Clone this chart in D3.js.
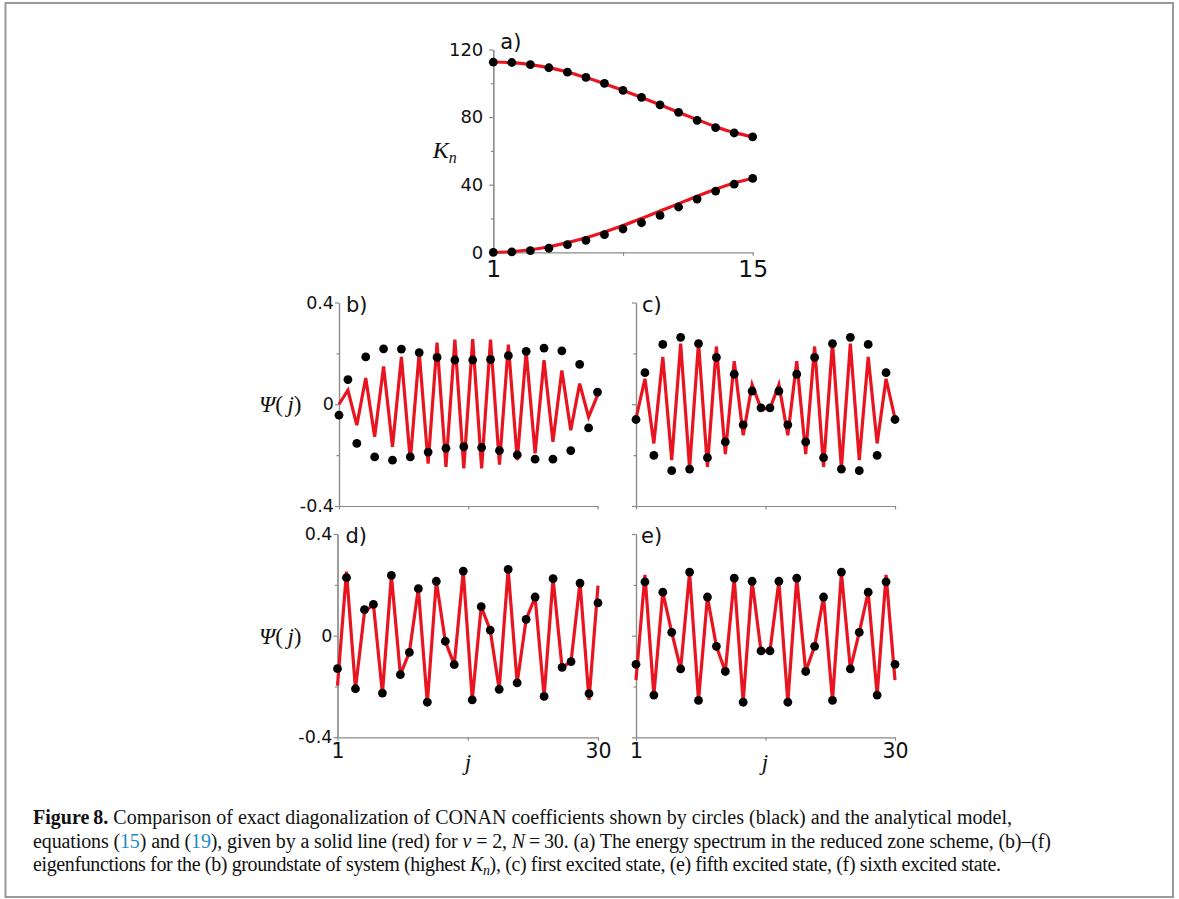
<!DOCTYPE html>
<html>
<head>
<meta charset="utf-8">
<script src="https://cdn.jsdelivr.net/npm/d3@7"></script>
<style>
body { margin: 0; background: #fff; }
.axis path, .axis line { stroke: #8a8a8a; stroke-width: 1.2; }
.axis text { fill: #111; }
.cap { font-family: "Liberation Serif", serif; fill: #111; }
</style>
</head>
<body>
<svg id="fig" width="1179" height="899"></svg>
<script>
// panel a) - energy spectrum, n = 1..15
var nA = [1, 2, 3, 4, 5, 6, 7, 8, 9, 10, 11, 12, 13, 14, 15];
var aUpperDots = [112.5, 112.3, 111.0, 109.2, 106.6, 103.5, 99.9, 95.8, 91.7, 87.2, 82.8, 78.1, 73.8, 70.6, 68.3];
var aLowerDots = [0, 0.2, 1.0, 2.4, 4.5, 7.1, 10.4, 13.8, 17.5, 21.8, 26.8, 31.5, 36.2, 40.3, 43.7];
var aUpperLine = [112.6, 112.2, 111.1, 109.3, 106.7, 103.4, 99.8, 95.8, 91.6, 87.3, 82.9, 78.5, 74.3, 70.8, 68.4];
var aLowerLine = [0, 0.4, 1.5, 3.3, 5.7, 8.6, 12.0, 15.8, 20.0, 24.4, 28.8, 33.2, 37.3, 41.0, 43.8];
var aYTicks = [0, 40, 80, 120];
var aYMinor = [20, 60, 100];
var aXTicks = [1, 8, 15];
var aXLabels = [1, 15];

// panels b)-e) - eigenfunctions, j = 1..30
var jIdx = [1, 2, 3, 4, 5, 6, 7, 8, 9, 10, 11, 12, 13, 14, 15, 16, 17, 18, 19, 20, 21, 22, 23, 24, 25, 26, 27, 28, 29, 30];
var bDots = [-0.043, 0.097, -0.154, 0.186, -0.207, 0.218, -0.220, 0.217, -0.207, 0.203, -0.188, 0.184, -0.173, 0.174, -0.167,
             0.174, -0.170, 0.176, -0.182, 0.191, -0.199, 0.208, -0.216, 0.221, -0.216, 0.210, -0.182, 0.157, -0.093, 0.048];
var bLine = [0, 0.055, -0.082, 0.103, -0.128, 0.149, -0.167, 0.186, -0.222, 0.205, -0.233, 0.242, -0.246, 0.254, -0.252,
             0.256, -0.252, 0.254, -0.237, 0.234, -0.220, 0.208, -0.193, 0.173, -0.148, 0.133, -0.102, 0.081, -0.050, 0.035];
var cDots = [-0.060, 0.124, -0.201, 0.235, -0.261, 0.263, -0.255, 0.238, -0.210, 0.184, -0.148, 0.118, -0.081, 0.052, -0.014,
             -0.014, 0.052, -0.081, 0.118, -0.148, 0.184, -0.210, 0.238, -0.255, 0.263, -0.261, 0.235, -0.201, 0.124, -0.060];
var cLine = [-0.056, 0.100, -0.154, 0.186, -0.220, 0.238, -0.252, 0.242, -0.246, 0.227, -0.196, 0.169, -0.122, 0.077, -0.017,
             -0.017, 0.077, -0.122, 0.169, -0.196, 0.227, -0.246, 0.242, -0.252, 0.238, -0.220, 0.186, -0.154, 0.100, -0.056];
var dDots = [-0.130, 0.228, -0.209, 0.102, 0.123, -0.226, 0.237, -0.153, -0.066, 0.185, -0.262, 0.214, -0.022, -0.114, 0.254,
             -0.253, 0.114, 0.022, -0.211, 0.261, -0.186, 0.064, 0.152, -0.239, 0.224, -0.125, -0.102, 0.207, -0.228, 0.129];
var dLine = [-0.197, 0.252, -0.209, 0.092, 0.123, -0.228, 0.237, -0.153, -0.066, 0.185, -0.266, 0.214, -0.022, -0.114, 0.254,
             -0.253, 0.114, 0.022, -0.211, 0.261, -0.186, 0.064, 0.152, -0.239, 0.224, -0.125, -0.102, 0.210, -0.253, 0.197];
var eDots = [-0.113, 0.212, -0.234, 0.171, 0.013, -0.131, 0.250, -0.255, 0.152, -0.042, -0.141, 0.226, -0.262, 0.214, -0.060,
             -0.060, 0.214, -0.262, 0.226, -0.141, -0.042, 0.152, -0.255, 0.250, -0.131, 0.013, 0.171, -0.234, 0.212, -0.113];
var eLine = [-0.175, 0.239, -0.234, 0.171, 0.013, -0.131, 0.248, -0.255, 0.152, -0.042, -0.141, 0.226, -0.262, 0.214, -0.060,
             -0.060, 0.214, -0.262, 0.226, -0.141, -0.042, 0.152, -0.255, 0.248, -0.131, 0.013, 0.171, -0.234, 0.239, -0.175];
var psiTicks = [-0.4, 0, 0.4];
var psiMinor = [-0.2, 0.2];
var jTicks = [1, 15.5, 30];
var jLabels = [1, 30];

var RED = "#e8141f";
var svg = d3.select("#fig");

// frame around figure + caption
svg.append("rect")
    .attr("x", 5.5).attr("y", 3).attr("width", 1167.5).attr("height", 894)
    .attr("fill", "none").attr("stroke", "#9a9a9a").attr("stroke-width", 2);

function drawPanel(p) {
    var x = d3.scaleLinear().domain(p.xDomain).range([p.left, p.right]);
    var y = d3.scaleLinear().domain(p.yDomain).range([p.bottom, p.top]);

    // minor y ticks
    svg.append("g").attr("class", "axis")
        .attr("transform", "translate(" + p.left + ",0)")
        .call(d3.axisLeft(y).tickValues(p.yMinor).tickSize(2.5).tickFormat("").tickSizeOuter(0));

    var yAxis = d3.axisLeft(y).tickValues(p.yTicks).tickSize(4).tickPadding(p.yPad).tickSizeOuter(0)
        .tickFormat(function (d) { return p.yLabels ? String(d) : ""; });
    svg.append("g").attr("class", "axis")
        .attr("transform", "translate(" + p.left + ",0)")
        .call(yAxis)
        .attr("font-family", "DejaVu Sans").attr("font-size", p.yFont);

    var xAxis = d3.axisBottom(x).tickValues(p.xTicks).tickSize(3.5).tickPadding(p.xPad).tickSizeOuter(0)
        .tickFormat(function (d) { return (p.xLabels && p.xLabels.indexOf(d) > -1) ? String(d) : ""; });
    svg.append("g").attr("class", "axis")
        .attr("transform", "translate(0," + p.bottom + ")")
        .call(xAxis)
        .attr("font-family", "DejaVu Sans").attr("font-size", p.xFont);

    // red model line(s), then black circles on top
    p.lines.forEach(function (vals) {
        var line = d3.line()
            .x(function (d, i) { return x(p.idx[i]); })
            .y(function (d) { return y(d); });
        if (p.smooth) line.curve(d3.curveCatmullRom);
        svg.append("path")
            .datum(vals)
            .attr("d", line)
            .attr("fill", "none")
            .attr("stroke", RED)
            .attr("stroke-width", 3.2);
    });

    p.dots.forEach(function (vals) {
        svg.append("g").selectAll("circle")
            .data(vals)
            .enter().append("circle")
            .attr("cx", function (d, i) { return x(p.idx[i]); })
            .attr("cy", function (d) { return y(d); })
            .attr("r", 4.4)
            .attr("fill", "#000");
    });

    svg.append("text")
        .attr("x", p.left + p.tagDx).attr("y", p.tagY)
        .attr("font-family", "DejaVu Sans").attr("font-size", 21)
        .attr("fill", "#111")
        .text(p.tag);
}

drawPanel({ tag: "a)", tagDx: 7, tagY: 48.5, idx: nA, xDomain: [1, 15], yDomain: [0, 120],
    left: 493.3, right: 752.7, top: 49.5, bottom: 252.3,
    yTicks: aYTicks, yMinor: aYMinor, yLabels: true, yFont: 18, yPad: 6,
    xTicks: aXTicks, xLabels: aXLabels, xFont: 23.5, xPad: 5,
    smooth: true, lines: [aUpperLine, aLowerLine], dots: [aUpperDots, aLowerDots] });

drawPanel({ tag: "b)", tagDx: 7, tagY: 311.7, idx: jIdx, xDomain: [1, 30], yDomain: [-0.4, 0.4],
    left: 339, right: 597.5, top: 302.5, bottom: 506,
    yTicks: psiTicks, yMinor: psiMinor, yLabels: true, yFont: 17.5, yPad: 1,
    xTicks: jTicks, xLabels: null, xFont: 20.5, xPad: 3,
    lines: [bLine], dots: [bDots] });

drawPanel({ tag: "c)", tagDx: 6, tagY: 311.7, idx: jIdx, xDomain: [1, 30], yDomain: [-0.4, 0.4],
    left: 636, right: 895, top: 302.5, bottom: 506,
    yTicks: psiTicks, yMinor: psiMinor, yLabels: false, yFont: 17.5, yPad: 1,
    xTicks: jTicks, xLabels: null, xFont: 20.5, xPad: 3,
    lines: [cLine], dots: [cDots] });

drawPanel({ tag: "d)", tagDx: 8, tagY: 543.3, idx: jIdx, xDomain: [1, 30], yDomain: [-0.4, 0.4],
    left: 337.5, right: 598, top: 534, bottom: 737.3,
    yTicks: psiTicks, yMinor: psiMinor, yLabels: true, yFont: 17.5, yPad: 1,
    xTicks: jTicks, xLabels: jLabels, xFont: 20.5, xPad: 3,
    lines: [dLine], dots: [dDots] });

drawPanel({ tag: "e)", tagDx: 5, tagY: 543.3, idx: jIdx, xDomain: [1, 30], yDomain: [-0.4, 0.4],
    left: 636, right: 895, top: 534, bottom: 737.3,
    yTicks: psiTicks, yMinor: psiMinor, yLabels: false, yFont: 17.5, yPad: 1,
    xTicks: jTicks, xLabels: jLabels, xFont: 20.5, xPad: 3,
    lines: [eLine], dots: [eDots] });

// axis titles
var kn = svg.append("text").attr("class", "cap").attr("x", 432.7).attr("y", 158.3)
    .attr("font-size", 24).attr("font-style", "italic");
kn.append("tspan").text("K");
kn.append("tspan").attr("font-size", 16).attr("dy", 5).text("n");

[412.3, 644.3].forEach(function (yy) {
    var t = svg.append("text").attr("class", "cap").attr("x", 259).attr("y", yy).attr("font-size", 23);
    t.append("tspan").attr("font-style", "italic").text("\u03A8");
    t.append("tspan").text("(\u2009");
    t.append("tspan").attr("font-style", "italic").text("j");
    t.append("tspan").text(")");
});

[468, 765].forEach(function (xx) {
    svg.append("text").attr("class", "cap").attr("x", xx).attr("y", 770)
        .attr("font-size", 23).attr("font-style", "italic").attr("text-anchor", "middle").text("j");
});

// caption
var capLines = [
    [["b", "Figure\u20098."], ["", " Comparison of exact diagonalization of CONAN coefficients shown by circles (black) and the analytical model,"]],
    [["", "equations ("], ["link", "15"], ["", ") and ("], ["link", "19"], ["", "), given by a solid line (red) for "], ["i", "\u03BD"],
     ["", " = 2, "], ["i", "N"], ["", "\u2009=\u200930. (a) The energy spectrum in the reduced zone scheme, (b)\u2013(f)"]],
    [["", "eigenfunctions for the (b) groundstate of system (highest "], ["i", "K"], ["sub", "n"],
     ["", "), (c) first excited state, (e) fifth excited state, (f) sixth excited state."]]
];
var capY = [824, 847.5, 871];
var capWidth = [979, 1018, 968];
capLines.forEach(function (parts, li) {
    var t = svg.append("text").attr("class", "cap").attr("x", 33).attr("y", capY[li]).attr("font-size", 20)
        .attr("textLength", capWidth[li]).attr("lengthAdjust", "spacing");
    parts.forEach(function (p) {
        var s = t.append("tspan").text(p[1]);
        if (p[0] == "b") s.attr("font-weight", "bold");
        if (p[0] == "i") s.attr("font-style", "italic");
        if (p[0] == "link") s.attr("fill", "#1a8bc8");
        if (p[0] == "sub") { s.attr("font-style", "italic").attr("font-size", 14).attr("dy", 4); }
        if (p[0] == "" && li == 2 && p[1].charAt(0) == ")") s.attr("dy", -4);
    });
});
</script>
</body>
</html>
